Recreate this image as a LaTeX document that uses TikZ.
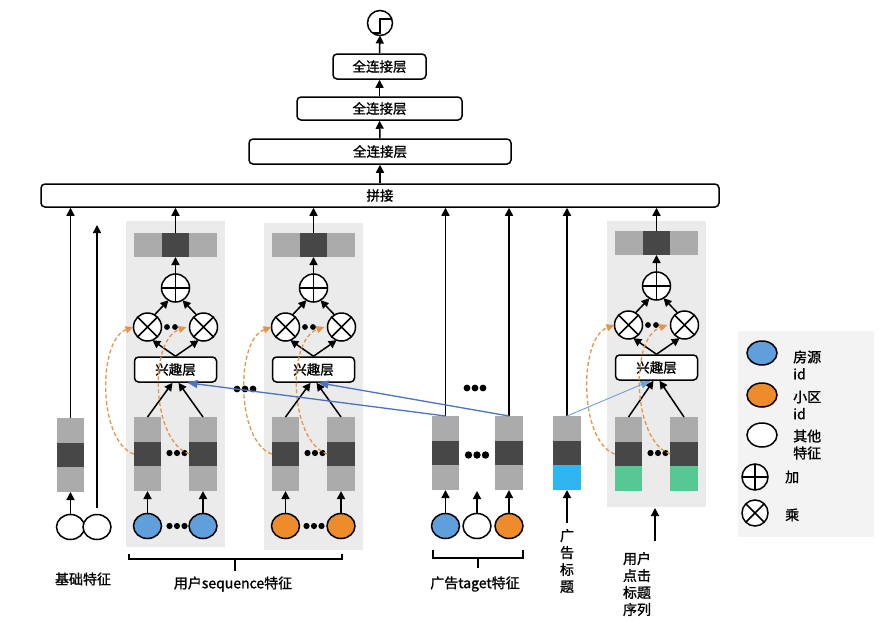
\documentclass[tikz,border=0pt]{standalone}
\usepackage{fontspec}
\setmainfont{Noto Sans CJK SC}[FakeBold=1.2]
\usetikzlibrary{arrows.meta,shapes.geometric}
\definecolor{lg}{HTML}{ABABAB}
\definecolor{dg}{HTML}{474747}
\definecolor{panel}{HTML}{EBEBEB}
\definecolor{legbg}{HTML}{F3F3F3}
\definecolor{idblue}{HTML}{5F9FDB}
\definecolor{idorange}{HTML}{EE8C2C}
\definecolor{titleblue}{HTML}{2EB6F2}
\definecolor{titlegreen}{HTML}{55C894}
\definecolor{dashor}{HTML}{E3954A}
\definecolor{linkblue}{HTML}{4A73C2}
\definecolor{linkbluelight}{HTML}{6D9FD6}

\newcommand\embv[4]{%
  \node[vseg,fill=lg,anchor=north] (#1t) at (#2,#3) {};
  \node[vseg,fill=dg,anchor=north] (#1m) at (#1t.south) {};
  \node[vseg,fill=#4,anchor=north] (#1b) at (#1m.south) {};}
\newcommand\embh[3]{%
  \node[hseg,fill=dg] (#1m) at (#2,#3) {};
  \node[hseg,fill=lg,anchor=east] (#1l) at (#1m.west) {};
  \node[hseg,fill=lg,anchor=west] (#1r) at (#1m.east) {};}
\newcommand\pluscirc[4]{\node[opc,minimum size=#4] (#1) at (#2,#3) {};
  \draw[line width=1.5pt] (#1.north)--(#1.south) (#1.east)--(#1.west);}
\newcommand\timescirc[4]{\node[opc,minimum size=#4] (#1) at (#2,#3) {};
  \draw[line width=1.5pt] (#1.45)--(#1.225) (#1.135)--(#1.315);}
\newcommand\threedots[5]{\coordinate (#1) at (#2,#3);
  \fill ([xshift=-#5]#1) circle (#4) (#1) circle (#4) ([xshift=#5]#1) circle (#4);}

\newcommand\seqpanel[6]{%
  \coordinate (#1bgA) at (#2-49.5,#5);
  \coordinate (#1bgB) at (#2+49.5,#6);
  \fill[panel] (#1bgA) rectangle (#1bgB);
  \embh{#1h}{#2}{245+#3}
  \pluscirc{#1plus}{#2}{288+#3}{28pt}
  \timescirc{#1ot1}{#2-28}{327+#3}{28pt}
  \timescirc{#1ot2}{#2+28}{327+#3}{28pt}
  \fill (#2-8.5,327+#3) circle (2.9pt) (#2-0.5,327+#3) circle (2.9pt);
  \node[box,minimum width=82pt,minimum height=25pt] (#1box) at (#2,369.5+#3) {兴趣层};
  \embv{#1L}{#2-28}{417}{#4}
  \embv{#1R}{#2+27.5}{417}{#4}
  \threedots{#1bd}{#2+1.5}{453}{3.1pt}{7.5pt}
  \draw[ar] (#1Lt.north) -- ([xshift=-3pt]#1box.south);
  \draw[ar] (#1Rt.north) -- ([xshift=3pt]#1box.south);
  \draw[ar] (#1box.north) -- (#1ot1.290);
  \draw[ar] (#1box.north) -- (#1ot2.250);
  \draw[ar] (#1ot1.60) -- (#1plus.240);
  \draw[ar] (#1ot2.120) -- (#1plus.300);
  \draw[ar] (#1plus.north) -- (#1hm.south);
  \draw[ar] (#1hm.north) -- (#1hm.north |- cat.south);
  \draw[dasharrow] (#1Lm.west) .. controls +(-36,-13) and +(-36,13) .. (#1ot1.west);
  \draw[dasharrow] (#1Rm.west) .. controls +(-38,-13) and +(-38,13) .. ([xshift=-3pt]#1ot2.west);
}

\begin{document}
\begin{tikzpicture}[x=1pt,y=-1pt,
  ar/.style={-{Triangle[width=8pt,length=8pt]},line width=1.5pt},
  box/.style={draw,line width=1.5pt,rounded corners=4pt,fill=white,inner sep=0pt,
    font=\fontsize{13.5}{16}\selectfont},
  vseg/.style={minimum width=27.5pt,minimum height=24.67pt,inner sep=0pt,outer sep=0pt},
  hseg/.style={minimum width=27.7pt,minimum height=24pt,inner sep=0pt,outer sep=0pt},
  feat/.style={ellipse,draw,line width=1.5pt,minimum width=28pt,minimum height=25pt,inner sep=0pt,outer sep=0pt},
  opc/.style={circle,draw,line width=1.5pt,inner sep=0pt,outer sep=0pt,fill=white},
  dasharrow/.style={dashed,dash pattern=on 4pt off 2.5pt,draw=dashor,line width=1.3pt,
    -{Triangle[width=7pt,length=8pt,fill=dashor]}},
  bluear/.style={draw=linkblue,line width=1.3pt,-{Triangle[width=8pt,length=10pt,fill=linkblue]}},
  bluear2/.style={draw=linkbluelight,line width=0.9pt,-{Triangle[width=8pt,length=10pt,fill=linkbluelight]}},
  lbl/.style={font=\fontsize{14}{17}\selectfont,inner sep=0pt},
  brace/.style={line width=1.5pt}]
\useasboundingbox (0,0) rectangle (879,622);

% ---- top stack
\node[opc,minimum size=25pt] (out) at (380,23) {};
\draw[line width=1.5pt] (373.4,33) -- (380,33) -- (380,19) -- (391.3,19);
\node[box,minimum width=93pt,minimum height=25pt] (fc1) at (379.5,66.5) {全连接层};
\node[box,minimum width=165pt,minimum height=23pt] (fc2) at (379.5,108.5) {全连接层};
\node[box,minimum width=262pt,minimum height=25pt] (fc3) at (380,151.5) {全连接层};
\node[box,minimum width=678pt,minimum height=23pt] (cat) at (380,195.5) {拼接};
\draw[ar] (fc1.north) -- (out.south);
\draw[ar] (fc2.north) -- (fc1.south);
\draw[ar] (fc3.north) -- (fc2.south);
\draw[ar] (cat.north) -- (fc3.south);

% ---- base features
\embv{bs}{70.5}{418}{lg}
\node[feat,fill=white] (bc1) at (70.5,527) {};
\node[feat,fill=white] (bc2) at (97,527) {};
\draw[ar] (bc1.north) -- (bsb.south);
\draw[ar] (bst.north) -- (bst.north |- cat.south);
\coordinate (bs2s) at (97,508);
\coordinate (bs2e) at (97,225);
\draw[ar] (bs2s) -- (bs2e);
\node[lbl] (lblbase) at (83,579) {基础特征};

% ---- sequence panels
\seqpanel{pa}{175.5}{0}{lg}{221}{547}
\seqpanel{pb}{313.5}{0}{lg}{223}{550}
\seqpanel{pc}{656.5}{-2}{titlegreen}{221}{507}

\node[feat,fill=idblue] (pac1) at (147.5,526) {};
\node[feat,fill=idblue] (pac2) at (203,526) {};
\threedots{pacd}{177}{526}{3.1pt}{7.5pt}
\draw[ar] (pac1.north) -- (paLb.south);
\draw[ar] (pac2.north) -- (paRb.south);

\node[feat,fill=idorange] (pbc1) at (285.5,526) {};
\node[feat,fill=idorange] (pbc2) at (341,526) {};
\threedots{pbcd}{314}{526}{3.1pt}{7.5pt}
\draw[ar] (pbc1.north) -- (pbLb.south);
\draw[ar] (pbc2.north) -- (pbRb.south);

\threedots{midd}{245}{389}{3.4pt}{8pt}

\draw[brace] (129,554) -- (129,559) -- (342,559) -- (342,554);
\draw[brace] (235,559) -- (235,571);
\node[lbl] (lblseq) at (233,584) {用户sequence特征};

% ---- ad target features
\embv{adL}{445.5}{416}{lg}
\embv{adR}{509}{416}{lg}
\threedots{add}{477}{455}{3.7pt}{8.5pt}
\node[feat,fill=idblue] (adc1) at (445.5,526) {};
\node[feat,fill=white] (adc2) at (477,526) {};
\node[feat,fill=idorange] (adc3) at (509,526) {};
\coordinate (adgap) at (477,491);
\draw[ar] (adc1.north) -- (adLb.south);
\draw[ar] (adc2.north) -- (adgap);
\draw[ar] (adc3.north) -- (adRb.south);
\draw[ar] (adLt.north) -- (adLt.north |- cat.south);
\draw[ar] (adRt.north) -- (adRt.north |- cat.south);
\threedots{adtopd}{475}{388}{3.4pt}{8pt}
\draw[brace] (433,550) -- (433,558) -- (523,558) -- (523,550);
\draw[brace] (478,558) -- (478,568);
\node[lbl] (lblad) at (475,584) {广告taget特征};

% ---- ad title
\embv{tt}{567}{416}{titleblue}
\coordinate (tts) at (567,523);
\draw[ar] (tts) -- (ttb.south);
\draw[ar] (ttt.north) -- (ttt.north |- cat.south);
\node[lbl,align=center] (lbltt) at (567,561) {广\\告\\标\\题};

% ---- click title sequence
\coordinate (pcs) at (655,541);
\coordinate (pce) at (655,508);
\draw[ar] (pcs) -- (pce);
\node[lbl,align=left] (lblclick) at (637,584) {用户\\点击\\标题\\序列};

% ---- blue attention links
\draw[bluear] (adLt.north) -- ([xshift=12pt]pabox.south);
\draw[bluear] (adRt.north) -- ([xshift=5pt]pbbox.south);
\draw[bluear2] (ttt.north) -- ([xshift=-6pt]pcbox.south);

% ---- legend
\node[fill=legbg,minimum width=136pt,minimum height=206pt,anchor=north west,inner sep=0pt] (leg) at (738,331) {};
\node[feat,fill=idblue,minimum width=30pt,minimum height=24pt] (lg1) at (762,353) {};
\node[lbl,anchor=west,align=left] (lt1) at (793,365) {房源\\id};
\node[feat,fill=idorange,minimum width=30pt,minimum height=24pt] (lg2) at (762,395) {};
\node[lbl,anchor=west,align=left] (lt2) at (793,405) {小区\\id};
\node[feat,fill=white,minimum width=30pt,minimum height=24pt] (lg3) at (762,435) {};
\node[lbl,anchor=west,align=left] (lt3) at (793,444.5) {其他\\特征};
\pluscirc{lg4}{755}{477}{26pt}
\node[lbl,anchor=west] (lt4) at (785,477) {加};
\timescirc{lg5}{755}{513}{26pt}
\node[lbl,anchor=west] (lt5) at (785,515) {乘};
\end{tikzpicture}
\end{document}
